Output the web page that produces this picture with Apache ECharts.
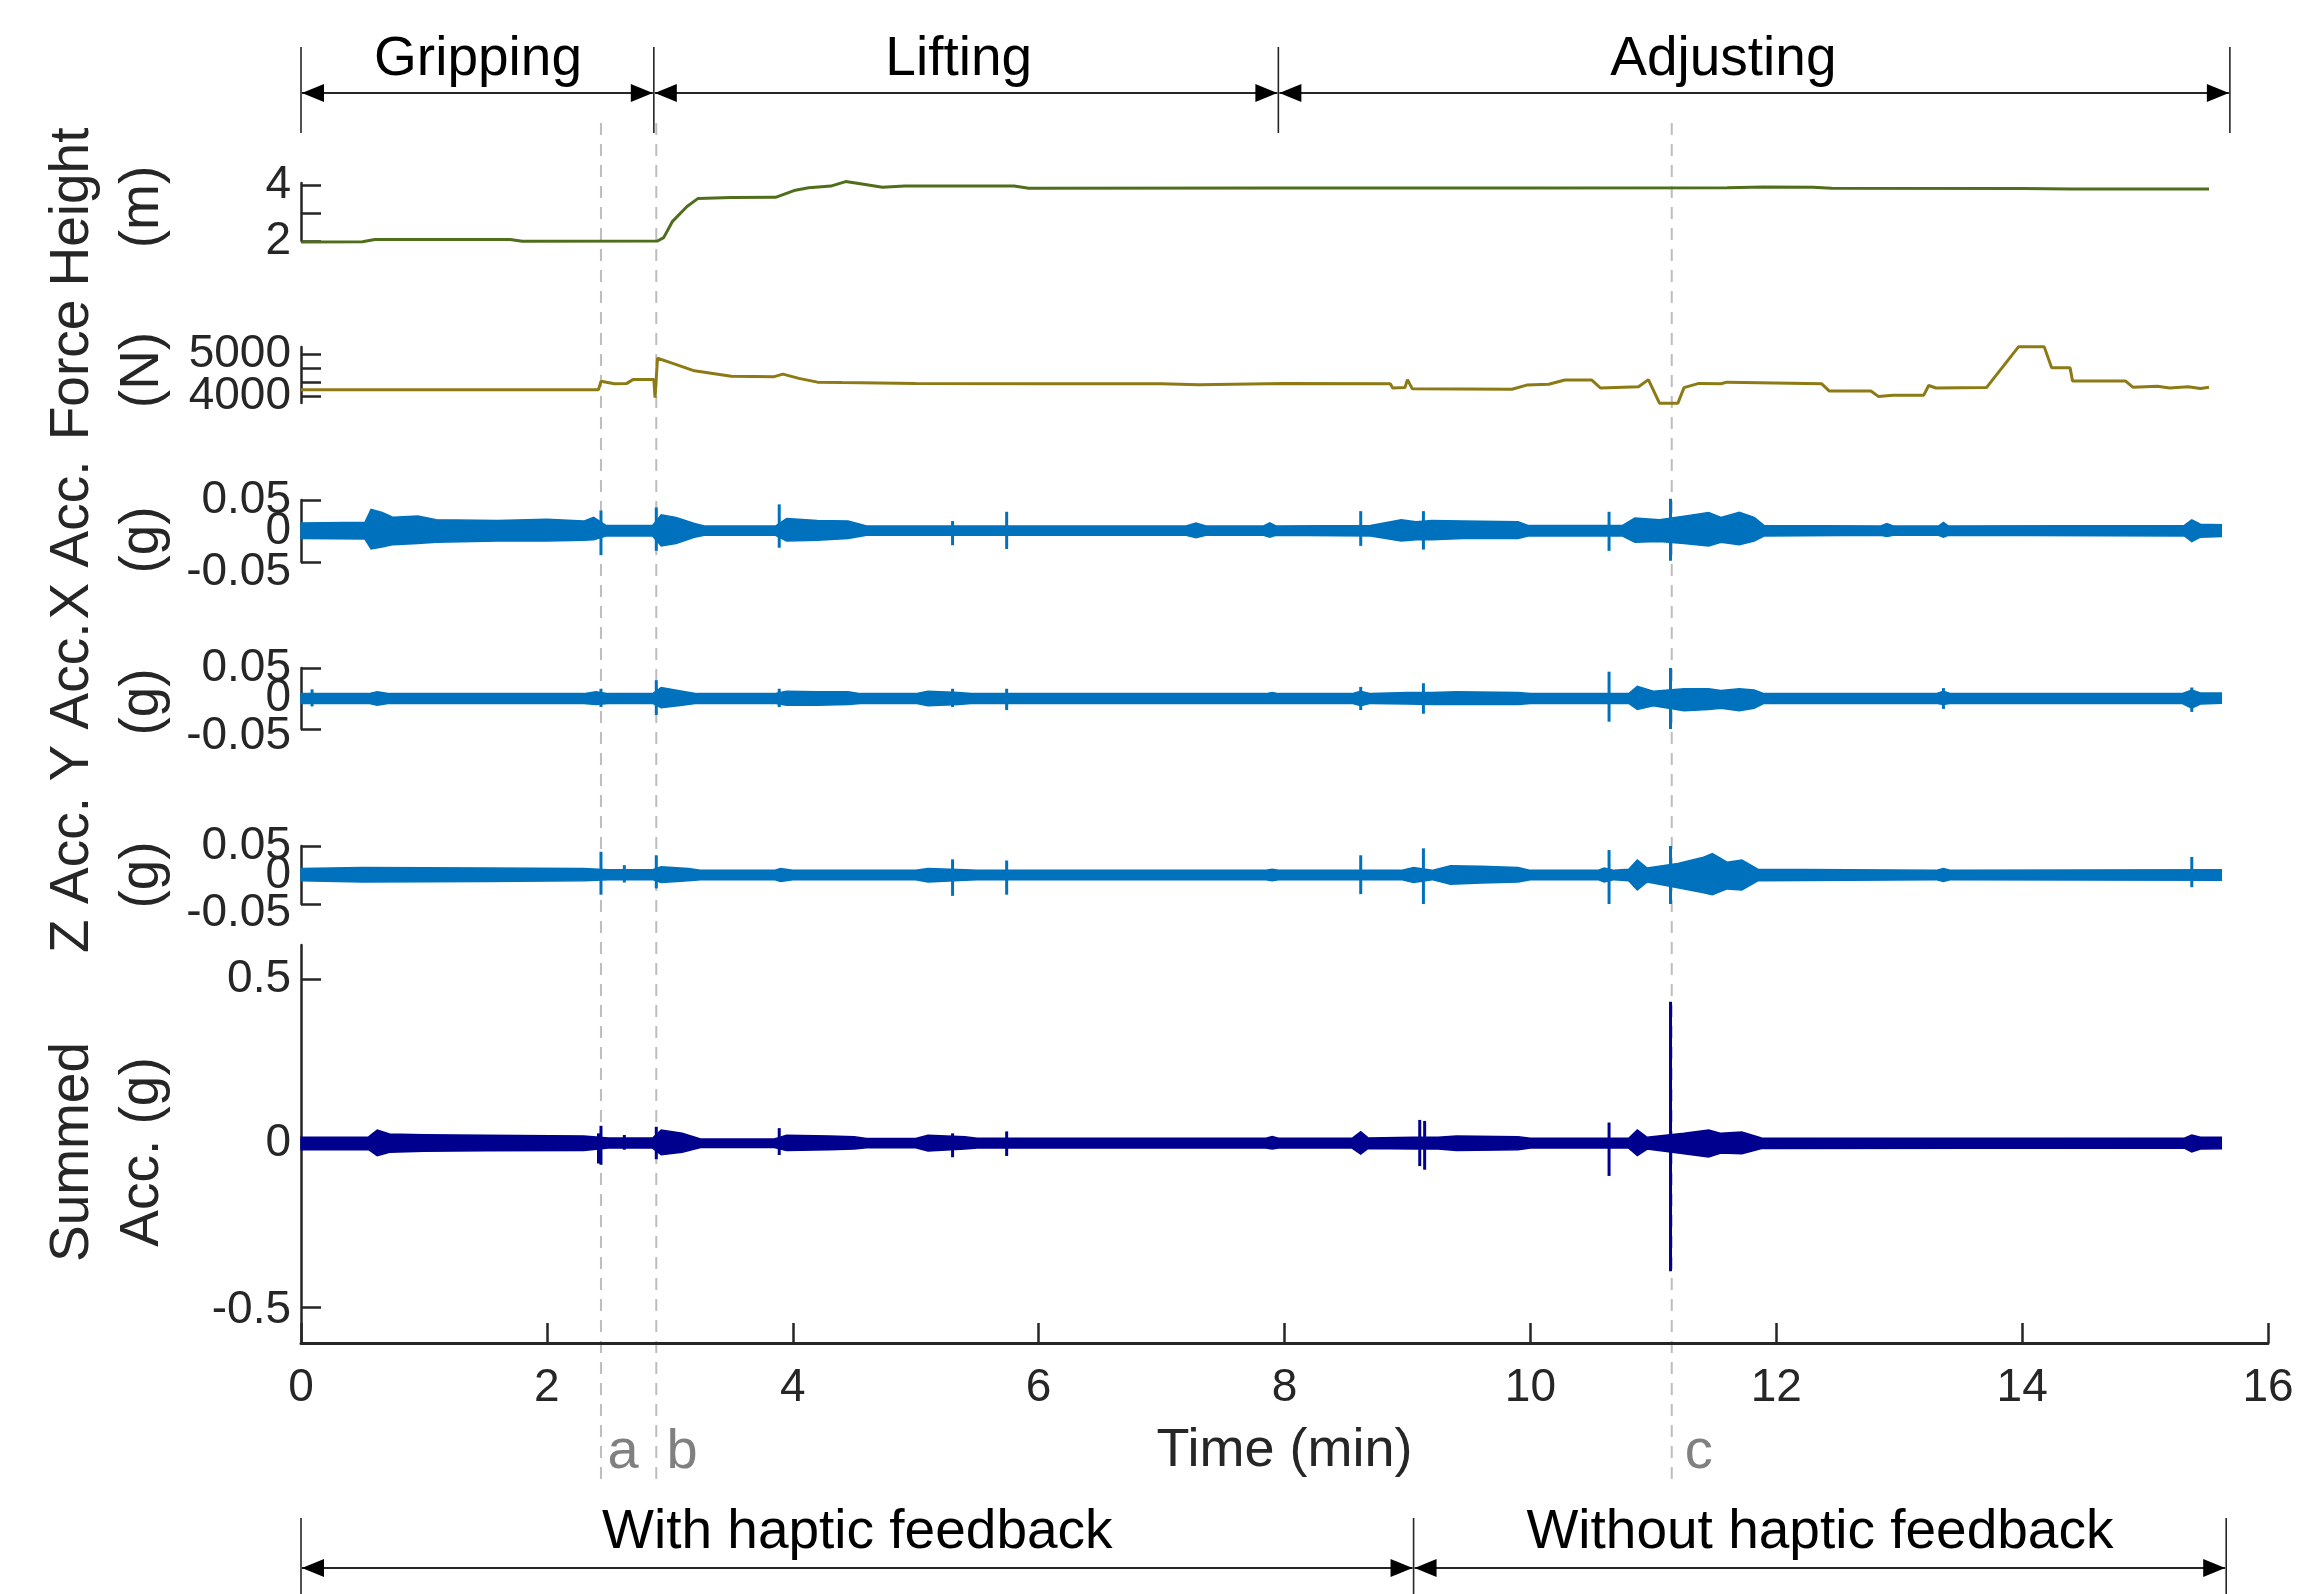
<!DOCTYPE html>
<html><head><meta charset="utf-8">
<script src="https://cdn.jsdelivr.net/npm/echarts@6/dist/echarts.min.js"></script>
<style>html,body{margin:0;padding:0;background:#fff}#c{width:2305px;height:1594px}</style>
</head><body><div id="c"></div>
<script>
// ---------------- DATA ----------------
const timeTicks = [0, 2, 4, 6, 8, 10, 12, 14, 16];

const heightTicks = [2, 3, 4];
const heightTickLabels = [2, 4];
const forceTicks = [4000, 4333.33, 4666.67, 5000];
const forceTickLabels = [4000, 5000];
const accTicks = [-0.05, 0, 0.05];
const accTickLabels = [-0.05, 0, 0.05];
const summedTicks = [-0.5, 0, 0.5];
const summedTickLabels = [-0.5, 0, 0.5];

// [time (min), height (m)]
const heightData = [[0,1.96],[0.5,1.97],[0.6,2.05],[1.7,2.05],[1.8,1.99],[2.9,2.0],[2.95,2.12],[3.02,2.69],[3.14,3.23],[3.23,3.52],[3.5,3.55],[3.86,3.56],[4.01,3.8],[4.13,3.9],[4.31,3.96],[4.43,4.12],[4.55,4.04],[4.73,3.92],[4.91,3.96],[5.8,3.96],[5.92,3.88],[8.0,3.89],[10.0,3.89],[11.6,3.9],[11.9,3.93],[12.3,3.92],[12.45,3.88],[14.0,3.87],[14.4,3.86],[15.52,3.86]];

// [time (min), force (N)]
const forceData = [[0,4150],[2.42,4150],[2.44,4350],[2.55,4290],[2.65,4300],[2.7,4390],[2.87,4390],[2.88,3960],[2.9,4900],[3.0,4800],[3.2,4600],[3.5,4470],[3.85,4460],[3.92,4520],[4.05,4420],[4.2,4330],[4.4,4320],[5.0,4300],[6.0,4290],[7.0,4290],[7.3,4270],[8.0,4300],[8.86,4290],[8.88,4190],[8.98,4200],[9.0,4390],[9.04,4170],[9.85,4160],[9.97,4260],[10.15,4280],[10.28,4380],[10.5,4380],[10.57,4190],[10.88,4220],[10.96,4390],[11.05,3830],[11.2,3830],[11.25,4200],[11.37,4300],[11.55,4290],[11.6,4330],[12.37,4290],[12.43,4120],[12.77,4120],[12.83,3990],[12.95,4020],[13.2,4020],[13.24,4250],[13.3,4190],[13.71,4200],[13.97,5170],[14.18,5170],[14.24,4670],[14.39,4670],[14.41,4360],[14.84,4360],[14.9,4210],[15.1,4230],[15.2,4190],[15.35,4220],[15.45,4180],[15.52,4210]];

// Acceleration envelopes: [time (min), upper (g), lower (g)]
const accXBand = [[0.00,0.013,-0.012],[0.52,0.014,-0.013],[0.57,0.035,-0.029],[0.66,0.030,-0.026],[0.75,0.022,-0.022],[0.95,0.024,-0.020],[1.10,0.018,-0.018],[1.60,0.017,-0.016],[2.00,0.019,-0.016],[2.30,0.016,-0.015],[2.38,0.022,-0.014],[2.48,0.009,-0.008],[2.86,0.009,-0.008],[2.93,0.026,-0.024],[3.05,0.022,-0.020],[3.20,0.012,-0.010],[3.28,0.008,-0.007],[3.86,0.008,-0.007],[3.95,0.020,-0.016],[4.20,0.017,-0.015],[4.45,0.016,-0.012],[4.60,0.008,-0.007],[7.20,0.008,-0.007],[7.28,0.013,-0.011],[7.36,0.008,-0.007],[7.83,0.008,-0.007],[7.88,0.013,-0.010],[7.93,0.008,-0.007],[8.70,0.009,-0.008],[8.95,0.018,-0.016],[9.07,0.015,-0.014],[9.20,0.017,-0.014],[9.45,0.016,-0.012],[9.90,0.015,-0.012],[9.98,0.009,-0.008],[10.75,0.009,-0.008],[10.85,0.021,-0.018],[11.05,0.018,-0.017],[11.25,0.024,-0.020],[11.45,0.030,-0.024],[11.55,0.022,-0.018],[11.70,0.030,-0.022],[11.82,0.022,-0.016],[11.90,0.009,-0.008],[12.85,0.008,-0.007],[12.90,0.012,-0.009],[12.95,0.008,-0.007],[13.32,0.008,-0.007],[13.36,0.014,-0.010],[13.40,0.008,-0.007],[15.32,0.009,-0.008],[15.38,0.018,-0.017],[15.45,0.011,-0.010],[15.62,0.010,-0.009]];
const accXSpikes = [[2.44,0.033,-0.039],[2.89,0.038,-0.032],[3.89,0.043,-0.027],[5.30,0.016,-0.023],[5.74,0.031,-0.029],[8.62,0.032,-0.024],[9.13,0.032,-0.030],[10.64,0.031,-0.032],[11.14,0.052,-0.048]];

const accYBand = [[0.00,0.008,-0.008],[0.55,0.008,-0.008],[0.62,0.011,-0.011],[0.72,0.008,-0.008],[2.30,0.008,-0.008],[2.40,0.011,-0.010],[2.50,0.008,-0.008],[2.86,0.008,-0.008],[2.93,0.018,-0.015],[3.10,0.012,-0.011],[3.22,0.008,-0.008],[3.85,0.008,-0.008],[3.95,0.012,-0.011],[4.20,0.011,-0.011],[4.45,0.011,-0.010],[4.55,0.008,-0.008],[5.00,0.008,-0.008],[5.10,0.012,-0.012],[5.35,0.010,-0.010],[5.45,0.008,-0.008],[7.85,0.008,-0.008],[7.90,0.010,-0.008],[7.95,0.008,-0.008],[8.55,0.008,-0.008],[8.62,0.012,-0.012],[8.70,0.008,-0.008],[9.00,0.010,-0.009],[9.20,0.010,-0.010],[9.40,0.011,-0.010],[9.90,0.010,-0.010],[10.00,0.008,-0.008],[10.80,0.008,-0.008],[10.87,0.020,-0.018],[11.00,0.012,-0.012],[11.25,0.016,-0.020],[11.45,0.016,-0.018],[11.55,0.013,-0.016],[11.70,0.016,-0.020],[11.82,0.014,-0.016],[11.90,0.008,-0.008],[13.30,0.008,-0.008],[13.36,0.012,-0.010],[13.42,0.008,-0.008],[15.30,0.008,-0.008],[15.38,0.014,-0.016],[15.45,0.009,-0.009],[15.62,0.009,-0.008]];
const accYSpikes = [[0.09,0.015,-0.013],[2.44,0.016,-0.014],[2.89,0.030,-0.027],[3.89,0.016,-0.014],[5.30,0.016,-0.014],[5.74,0.016,-0.019],[8.62,0.019,-0.019],[9.13,0.025,-0.025],[10.64,0.044,-0.038],[11.14,0.050,-0.050],[13.36,0.017,-0.017],[15.38,0.018,-0.022]];

const accZBand = [[0.00,0.011,-0.010],[0.50,0.013,-0.012],[1.50,0.012,-0.011],[2.30,0.011,-0.010],[2.50,0.009,-0.008],[2.86,0.009,-0.008],[2.93,0.014,-0.013],[3.15,0.011,-0.010],[3.25,0.008,-0.008],[3.85,0.008,-0.008],[3.90,0.011,-0.011],[4.00,0.008,-0.008],[5.00,0.008,-0.008],[5.10,0.011,-0.012],[5.40,0.009,-0.009],[5.50,0.008,-0.008],[7.85,0.008,-0.008],[7.90,0.010,-0.010],[7.95,0.008,-0.008],[8.95,0.008,-0.008],[9.05,0.013,-0.013],[9.20,0.008,-0.008],[9.35,0.016,-0.016],[9.60,0.015,-0.014],[9.90,0.013,-0.012],[10.00,0.008,-0.008],[10.55,0.008,-0.008],[10.60,0.012,-0.012],[10.68,0.008,-0.008],[10.80,0.010,-0.010],[10.87,0.026,-0.026],[10.95,0.012,-0.012],[11.20,0.020,-0.022],[11.40,0.030,-0.030],[11.48,0.037,-0.034],[11.60,0.022,-0.024],[11.72,0.026,-0.026],[11.85,0.010,-0.010],[13.30,0.008,-0.008],[13.36,0.011,-0.011],[13.42,0.008,-0.008],[15.62,0.009,-0.009]];
const accZSpikes = [[2.44,0.040,-0.034],[2.63,0.017,-0.013],[2.89,0.034,-0.023],[5.30,0.027,-0.036],[5.74,0.025,-0.034],[8.62,0.034,-0.033],[9.13,0.046,-0.050],[10.64,0.043,-0.050],[11.14,0.050,-0.050],[15.38,0.031,-0.021]];

const summedBand = [[0.00,0.018,-0.020],[0.55,0.019,-0.020],[0.62,0.040,-0.038],[0.72,0.028,-0.028],[1.00,0.026,-0.025],[1.50,0.024,-0.023],[2.30,0.022,-0.022],[2.50,0.016,-0.015],[2.86,0.016,-0.015],[2.93,0.040,-0.035],[3.10,0.030,-0.028],[3.25,0.013,-0.013],[3.85,0.013,-0.013],[3.95,0.024,-0.022],[4.30,0.022,-0.020],[4.50,0.020,-0.018],[4.60,0.014,-0.014],[5.00,0.014,-0.014],[5.10,0.024,-0.024],[5.40,0.020,-0.018],[5.50,0.015,-0.015],[7.85,0.015,-0.015],[7.90,0.020,-0.018],[7.95,0.015,-0.015],[8.55,0.015,-0.015],[8.62,0.035,-0.033],[8.68,0.016,-0.016],[9.05,0.018,-0.018],[9.25,0.018,-0.018],[9.40,0.022,-0.022],[9.90,0.020,-0.020],[10.00,0.015,-0.015],[10.80,0.015,-0.015],[10.87,0.040,-0.038],[10.95,0.018,-0.018],[11.25,0.030,-0.032],[11.45,0.040,-0.042],[11.55,0.030,-0.030],[11.72,0.034,-0.032],[11.88,0.016,-0.016],[15.32,0.015,-0.015],[15.38,0.025,-0.027],[15.45,0.018,-0.018],[15.62,0.018,-0.017]];
const summedSpikes = [[2.42,0.030,-0.062],[2.44,0.053,-0.066],[2.63,0.025,-0.020],[2.89,0.050,-0.049],[3.89,0.046,-0.036],[5.30,0.030,-0.043],[5.74,0.036,-0.039],[9.10,0.071,-0.070],[9.14,0.068,-0.081],[10.64,0.063,-0.100],[11.14,0.432,-0.391]];

// Annotations
const phaseBounds = [0, 2.87, 7.95, 15.69];
const phaseNames = ['Gripping', 'Lifting', 'Adjusting'];
const phaseLabelTime = [1.44, 5.35, 11.57];
const feedbackBounds = [0, 9.05, 15.66];
const feedbackNames = ['With haptic feedback', 'Without haptic feedback'];
const eventTimes = [2.44, 2.89, 11.15];
const eventNames = ['a', 'b', 'c'];
const eventLabelTime = [2.62, 3.10, 11.37];
const panelTitles = ['Height\n(m)', 'Force\n(N)', 'X Acc.\n(g)', 'Y Acc.\n(g)', 'Z Acc.\n(g)', 'Summed\nAcc. (g)'];

// ---------------- CHART ----------------
const FONT = "'Liberation Sans', Arial, Helvetica, sans-serif";
const AX = '#262626';
const chart = echarts.init(document.getElementById('c'), null, {renderer: 'canvas'});

const accFmt = v => (Math.abs(v) < 1e-9 ? '0' : v.toFixed(2));
const panels = [
  {top: 183, height: 58, min: 2, max: 4.07, ticks: heightTicks, labels: heightTickLabels, fmt: v => String(v), negShift: 0},
  {top: 347, height: 56, min: 3833, max: 5167, ticks: forceTicks, labels: forceTickLabels, fmt: v => String(v), negShift: 0},
  {top: 500, height: 62, min: -0.05, max: 0.05, ticks: accTicks, labels: accTickLabels, fmt: accFmt, negShift: 10},
  {top: 668, height: 61, min: -0.05, max: 0.05, ticks: accTicks, labels: accTickLabels, fmt: accFmt, negShift: 7},
  {top: 846, height: 58, min: -0.05, max: 0.05, ticks: accTicks, labels: accTickLabels, fmt: accFmt, negShift: 9},
  {top: 945, height: 398, min: -0.61, max: 0.605, ticks: summedTicks, labels: summedTickLabels, fmt: v => (v === 0 ? '0' : String(v)), negShift: 3}
];

const grids = panels.map(p => ({left: 301, right: 37, top: p.top, height: p.height}));
const xAxes = panels.map((p, i) => {
  if (i < 5) return {type: 'value', gridIndex: i, min: 0, max: 16, show: false};
  return {
    type: 'value', gridIndex: i, min: 0, max: 16,
    axisLine: {show: true, onZero: false, lineStyle: {color: AX, width: 3}},
    axisTick: {show: true, inside: true, length: 20, customValues: timeTicks, lineStyle: {color: AX, width: 2.5}},
    axisLabel: {show: true, customValues: timeTicks, fontSize: 46, fontFamily: FONT, color: AX, margin: 22,
      showMinLabel: true, showMaxLabel: true},
    splitLine: {show: false},
    name: 'Time (min)', nameLocation: 'middle', nameGap: 81,
    nameTextStyle: {fontSize: 54, fontFamily: FONT, color: AX}
  };
});
const yAxes = panels.map((p, i) => ({
  type: 'value', gridIndex: i, min: p.min, max: p.max,
  axisLine: {show: true, onZero: false, lineStyle: {color: AX, width: 2.5}},
  axisTick: {show: true, inside: true, length: 20, customValues: p.ticks, lineStyle: {color: AX, width: 2.5}},
  axisLabel: {show: false},
  splitLine: {show: false}
}));

function lineSeries(idx, data, color) {
  return {type: 'line', xAxisIndex: idx, yAxisIndex: idx, data: data, showSymbol: false, symbol: 'none',
    clip: false, animation: false, silent: true, lineStyle: {color: color, width: 3}};
}
function bandSeries(idx, band, color) {
  return {
    type: 'custom', xAxisIndex: idx, yAxisIndex: idx, data: band, encode: {x: 0, y: [1, 2]},
    animation: false, silent: true, clip: false, z: 3,
    renderItem: function (params, api) {
      if (params.dataIndex !== 0) return null;
      const pts = [];
      for (let k = 0; k < band.length; k++) pts.push(api.coord([band[k][0], band[k][1]]));
      for (let k = band.length - 1; k >= 0; k--) pts.push(api.coord([band[k][0], band[k][2]]));
      return {type: 'polygon', shape: {points: pts}, style: {fill: color, stroke: color, lineWidth: 1.5}};
    }
  };
}
function spikeSeries(idx, spikes, color) {
  return {
    type: 'custom', xAxisIndex: idx, yAxisIndex: idx, data: spikes, encode: {x: 0, y: [1, 2]},
    animation: false, silent: true, clip: false, z: 3,
    renderItem: function (params, api) {
      const a = api.coord([api.value(0), api.value(1)]);
      const b = api.coord([api.value(0), api.value(2)]);
      return {type: 'line', shape: {x1: a[0], y1: a[1], x2: b[0], y2: b[1]}, style: {stroke: color, lineWidth: 3}};
    }
  };
}

const BLUE = '#0072BD';
const NAVY = '#00008F';
chart.setOption({
  backgroundColor: '#ffffff',
  animation: false,
  grid: grids, xAxis: xAxes, yAxis: yAxes,
  series: [
    lineSeries(0, heightData, '#4f6e1c'),
    lineSeries(1, forceData, '#8c7a14'),
    bandSeries(2, accXBand, BLUE), spikeSeries(2, accXSpikes, BLUE),
    bandSeries(3, accYBand, BLUE), spikeSeries(3, accYSpikes, BLUE),
    bandSeries(4, accZBand, BLUE), spikeSeries(4, accZSpikes, BLUE),
    bandSeries(5, summedBand, NAVY), spikeSeries(5, summedSpikes, NAVY)
  ]
});

// ---------- annotations positioned through the axes ----------
const px = t => chart.convertToPixel({xAxisIndex: 5}, t);
const G = [];
const LINE = '#262626';

// y tick labels (drawn at axis positions so overlapping MATLAB-style labels all stay visible)
panels.forEach((p, i) => {
  const axisX = chart.convertToPixel({xAxisIndex: i}, 0);
  p.labels.forEach(v => {
    const y = chart.convertToPixel({yAxisIndex: i}, v) + (v < 0 ? p.negShift : 0);
    G.push({type: 'text', x: axisX - 10, y: y, silent: true, z: 5,
      style: {text: p.fmt(v), fontSize: 46, fontFamily: FONT, fill: AX, align: 'right', verticalAlign: 'middle'}});
  });
});

function arrowHead(xTip, y, dir) { // dir -1 points left, +1 points right
  const L = 22, H = 9;
  return {type: 'polygon', shape: {points: [[xTip, y], [xTip - dir * L, y - H], [xTip - dir * L, y + H]]}, style: {fill: '#000'}, silent: true};
}
function annotationRow(bounds, names, labelTimes, yArrow, yTop, yBot, yText) {
  bounds.forEach(t => {
    const x = px(t);
    G.push({type: 'line', shape: {x1: x, y1: yTop, x2: x, y2: yBot}, style: {stroke: LINE, lineWidth: 1.6}, silent: true});
  });
  for (let i = 0; i < bounds.length - 1; i++) {
    const x1 = px(bounds[i]) + 1, x2 = px(bounds[i + 1]) - 1;
    G.push({type: 'line', shape: {x1: x1, y1: yArrow, x2: x2, y2: yArrow}, style: {stroke: LINE, lineWidth: 2.2}, silent: true});
    G.push(arrowHead(x1, yArrow, -1));
    G.push(arrowHead(x2, yArrow, 1));
    const lx = labelTimes ? px(labelTimes[i]) : (x1 + x2) / 2;
    G.push({type: 'text', x: lx, y: yText, silent: true,
      style: {text: names[i], fontSize: 55, fontFamily: FONT, fill: '#000', align: 'center', verticalAlign: 'middle'}});
  }
}
annotationRow(phaseBounds, phaseNames, phaseLabelTime, 93, 47, 133, 60);
annotationRow(feedbackBounds, feedbackNames, null, 1568, 1518, 1594, 1533);

eventTimes.forEach((t, i) => {
  const x = px(t);
  G.push({type: 'line', shape: {x1: x, y1: 123, x2: x, y2: 1483}, style: {stroke: '#bdbdbd', lineWidth: 2, lineDash: [12, 9]}, silent: true, z: 0});
  G.push({type: 'text', x: px(eventLabelTime[i]), y: 1453, silent: true,
    style: {text: eventNames[i], fontSize: 56, fontFamily: FONT, fill: '#808080', align: 'center', verticalAlign: 'middle'}});
});

const titleY = [207, 370, 540, 702, 875, 1152];
panelTitles.forEach((txt, i) => {
  G.push({type: 'text', x: 108, y: titleY[i], rotation: Math.PI / 2, silent: true,
    style: {text: txt, fontSize: 55, fontFamily: FONT, fill: AX, align: 'center', verticalAlign: 'middle', lineHeight: 70}});
});

chart.setOption({graphic: {elements: G}});
</script>
</body></html>
